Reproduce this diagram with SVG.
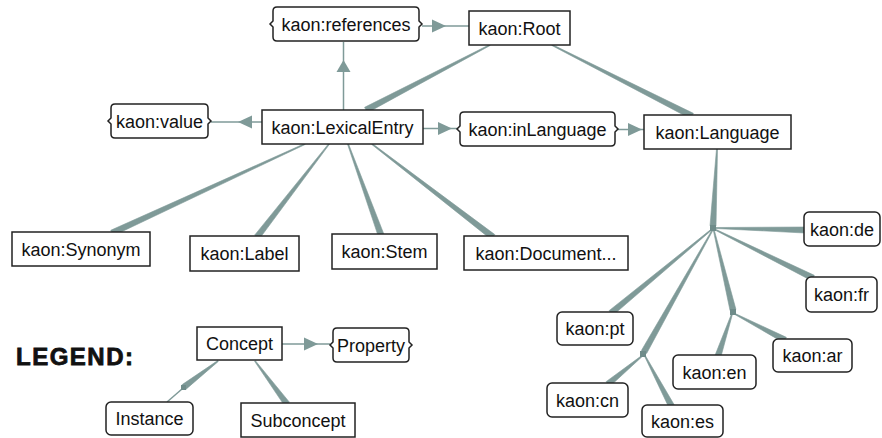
<svg xmlns="http://www.w3.org/2000/svg" width="882" height="438" viewBox="0 0 882 438">
<style>
.box{fill:#fff;stroke:#222;stroke-width:1.5}
.t{font-family:"Liberation Sans",Arial,sans-serif;font-size:18px;fill:#111;text-anchor:middle}
.w{fill:#7f9a98;stroke:#7f9a98;stroke-width:0.6;stroke-linejoin:round}
.ln{stroke:#7f9a98;stroke-width:1.5;fill:none}
.ah{fill:#7f9a98}
.sq{fill:#6f8c8a}
.legend{font-family:"Liberation Sans",Arial,sans-serif;font-size:24px;font-weight:bold;fill:#111;stroke:#111;stroke-width:0.8;letter-spacing:1.5px}
</style>
<rect width="882" height="438" fill="#fff"/>
<g id="connectors">
  <!-- subconcept wedges -->
  <polygon class="w" points="489.77,44.56 490.23,45.44 367.39,112.66 364.61,107.34"/>
  <polygon class="w" points="551.77,45.45 552.23,44.55 693.36,113.32 690.64,118.68"/>
  <polygon class="w" points="304.79,143.55 305.21,144.45 113.26,235.72 110.74,230.28"/>
  <polygon class="w" points="328.6,143.7 329.4,144.3 259.37,238.84 254.63,235.16"/>
  <polygon class="w" points="347.53,144.17 348.47,143.83 383.82,233.98 378.18,236.02"/>
  <polygon class="w" points="371.7,144.4 372.3,143.6 494.83,234.62 491.17,239.38"/>
  <polygon class="w" points="716.5,148.97 717.5,149.03 716,226.16 710,225.84"/>
  <polygon class="w" points="716,228.5 716,227.5 805.1,227 804.9,233"/>
  <polygon class="w" points="715.78,230.45 716.22,229.55 814.33,275.31 811.67,280.69"/>
  <polygon class="w" points="710.68,229.62 711.32,230.38 612.91,315.31 609.09,310.69"/>
  <polygon class="w" points="711.56,230.76 712.44,231.24 646.62,353.47 641.38,350.53"/>
  <polygon class="w" points="713.51,231.12 714.49,230.88 735.92,309.3 730.08,310.7"/>
  <polygon class="w" points="641.68,355.61 642.32,356.39 609.91,386.32 606.09,381.68"/>
  <polygon class="w" points="644.56,356.23 645.44,355.77 674.65,405.6 669.35,408.4"/>
  <polygon class="w" points="731.53,313.84 732.47,314.16 720.85,356.95 715.15,355.05"/>
  <polygon class="w" points="734.77,314.44 735.23,313.56 786.38,337.34 783.62,342.66"/>
  <polygon class="w" points="254.6,361.3 255.4,360.7 289.4,402.2 284.6,405.8"/>
  <polygon class="w" points="217.7,360.6 218.3,361.4 185.82,389.38 182.18,384.62"/>
  <line class="ln" x1="182" y1="389" x2="167" y2="402"/>
  <!-- junction squares -->
  <rect class="sq" x="710" y="225" width="6" height="6"/>
  <rect class="sq" x="640" y="351" width="6" height="6"/>
  <rect class="sq" x="730" y="309" width="6" height="6"/>
  <rect class="sq" x="181" y="385" width="5" height="5"/>
  <!-- property arrows -->
  <line class="ln" x1="343.5" y1="110" x2="343.5" y2="42"/>
  <polygon class="ah" points="343.5,60 350.5,72 336.5,72"/>
  <line class="ln" x1="422" y1="26" x2="469" y2="26"/>
  <polygon class="ah" points="446,26 432,19.5 432,32.5"/>
  <line class="ln" x1="262" y1="122" x2="211" y2="122"/>
  <polygon class="ah" points="238,122 252,115.5 252,128.5"/>
  <line class="ln" x1="423" y1="128.5" x2="457" y2="128.5"/>
  <polygon class="ah" points="452,128.5 438,122 438,135"/>
  <line class="ln" x1="618" y1="129.5" x2="644" y2="129.5"/>
  <polygon class="ah" points="642,129.5 628,123 628,136"/>
  <line class="ln" x1="282" y1="344" x2="330" y2="344"/>
  <polygon class="ah" points="318,344 304,337.5 304,350.5"/>
</g>
<g id="kaon-references">
  <path class="box" d="M 277,7 H 415 Q 419,7 419,11 V 21 L 422,24 L 419,27 V 37 Q 419,41 415,41 H 277 Q 273,41 273,37 V 27 L 270,24 L 273,21 V 11 Q 273,7 277,7 Z"/>
  <text class="t" x="346" y="30.5">kaon:references</text>
</g>
<g id="kaon-Root">
  <rect class="box" x="469" y="11" width="101" height="34"/>
  <text class="t" x="519.5" y="34.5">kaon:Root</text>
</g>
<g id="kaon-value">
  <path class="box" d="M 115,104 H 204 Q 208,104 208,108 V 118 L 211,121 L 208,124 V 134 Q 208,138 204,138 H 115 Q 111,138 111,134 V 124 L 108,121 L 111,118 V 108 Q 111,104 115,104 Z"/>
  <text class="t" x="159.5" y="127.5">kaon:value</text>
</g>
<g id="kaon-LexicalEntry">
  <rect class="box" x="262" y="110" width="161" height="34"/>
  <text class="t" x="342.5" y="133.5">kaon:LexicalEntry</text>
</g>
<g id="kaon-inLanguage">
  <path class="box" d="M 464,112 H 611 Q 615,112 615,116 V 126 L 618,129 L 615,132 V 142 Q 615,146 611,146 H 464 Q 460,146 460,142 V 132 L 457,129 L 460,126 V 116 Q 460,112 464,112 Z"/>
  <text class="t" x="537.5" y="135.5">kaon:inLanguage</text>
</g>
<g id="kaon-Language">
  <rect class="box" x="644" y="115" width="147" height="34"/>
  <text class="t" x="717.5" y="138.5">kaon:Language</text>
</g>
<g id="kaon-Synonym">
  <rect class="box" x="12" y="232" width="138" height="34"/>
  <text class="t" x="81" y="255.5">kaon:Synonym</text>
</g>
<g id="kaon-Label">
  <rect class="box" x="190" y="236" width="109" height="35"/>
  <text class="t" x="244.5" y="260">kaon:Label</text>
</g>
<g id="kaon-Stem">
  <rect class="box" x="332" y="234" width="105" height="35"/>
  <text class="t" x="384.5" y="258">kaon:Stem</text>
</g>
<g id="kaon-Document">
  <rect class="box" x="464" y="236" width="164" height="34"/>
  <text class="t" x="546" y="259.5">kaon:Document...</text>
</g>
<g id="kaon-de">
  <rect class="box" x="804" y="212" width="76" height="34" rx="5"/>
  <text class="t" x="842" y="235.5">kaon:de</text>
</g>
<g id="kaon-fr">
  <rect class="box" x="806" y="277" width="71" height="35" rx="5"/>
  <text class="t" x="841.5" y="301">kaon:fr</text>
</g>
<g id="kaon-pt">
  <rect class="box" x="557" y="312" width="76" height="33" rx="5"/>
  <text class="t" x="595" y="335">kaon:pt</text>
</g>
<g id="kaon-ar">
  <rect class="box" x="773" y="339" width="79" height="33" rx="5"/>
  <text class="t" x="812.5" y="362">kaon:ar</text>
</g>
<g id="kaon-en">
  <rect class="box" x="673" y="355" width="83" height="34" rx="5"/>
  <text class="t" x="714.5" y="378.5">kaon:en</text>
</g>
<g id="kaon-cn">
  <rect class="box" x="547" y="383" width="81" height="34" rx="5"/>
  <text class="t" x="587.5" y="406.5">kaon:cn</text>
</g>
<g id="kaon-es">
  <rect class="box" x="642" y="405" width="81" height="32" rx="5"/>
  <text class="t" x="682.5" y="427.5">kaon:es</text>
</g>
<g id="legend-title">
  <text class="legend" x="16" y="365">LEGEND:</text>
</g>
<g id="legend-Concept">
  <rect class="box" x="197" y="327" width="85" height="33"/>
  <text class="t" x="239.5" y="350">Concept</text>
</g>
<g id="legend-Property">
  <path class="box" d="M 337,328 H 405 Q 409,328 409,332 V 342 L 412,345 L 409,348 V 358 Q 409,362 405,362 H 337 Q 333,362 333,358 V 348 L 330,345 L 333,342 V 332 Q 333,328 337,328 Z"/>
  <text class="t" x="371" y="351.5">Property</text>
</g>
<g id="legend-Instance">
  <rect class="box" x="106" y="402" width="87" height="33" rx="5"/>
  <text class="t" x="149.5" y="425">Instance</text>
</g>
<g id="legend-Subconcept">
  <rect class="box" x="241" y="403" width="114" height="34"/>
  <text class="t" x="298" y="426.5">Subconcept</text>
</g>
</svg>
